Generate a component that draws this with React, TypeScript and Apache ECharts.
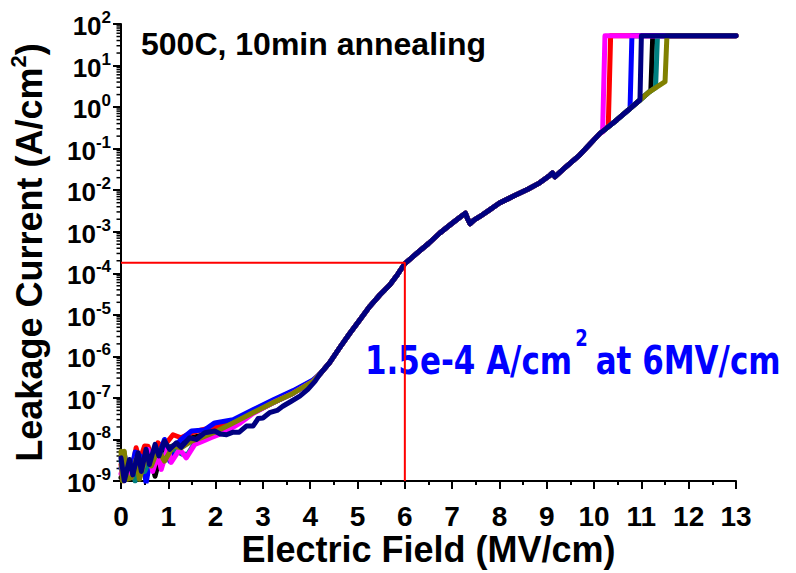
import React, { useEffect, useRef } from "react";
import * as echarts from "echarts";

// ---- data (Electric field MV/cm, leakage current A/cm2) ----
const fieldTicks = [0, 13];
const complianceCurrent = 52;

const commonCurve: [number, number][] = [
  [4.2, 3.7e-7], [4.41, 7.1e-7], [4.62, 1.6e-6], [4.83, 3.5e-6], [5.05, 7.6e-6],
  [5.26, 1.6e-5], [5.47, 3.0e-5], [5.68, 5.2e-5], [5.85, 9.5e-5], [6.0, 1.7e-4],
  [6.25, 3.0e-4], [6.5, 5.2e-4], [6.74, 9.3e-4], [7.0, 1.6e-3], [7.2, 2.4e-3],
  [7.28, 2.8e-3], [7.33, 2.0e-3], [7.38, 1.55e-3], [7.46, 1.9e-3], [7.58, 2.3e-3],
  [7.8, 3.4e-3], [8.0, 4.9e-3], [8.3, 7.2e-3], [8.6, 1.05e-2], [8.85, 1.5e-2],
  [9.07, 2.3e-2], [9.12, 2.6e-2], [9.17, 2.1e-2], [9.35, 3.2e-2], [9.7, 7.1e-2],
  [10.12, 0.23], [10.48, 0.49], [10.97, 1.48], [11.16, 2.3], [11.5, 4.1],
];

const lowBlack: [number, number][] = [
  [0, 1.2e-9], [0.1, 2.5e-9], [0.2, 1.5e-9], [0.35, 3.5e-9], [0.5, 2.0e-9], [0.62, 4.0e-9],
  [0.72, 1.3e-9], [0.8, 3.0e-9], [0.95, 6.0e-9], [1.1, 7.0e-9], [1.3, 8.5e-9], [1.5, 1.1e-8],
  [1.75, 1.3e-8], [2.0, 1.6e-8], [2.37, 2.6e-8], [2.79, 4.4e-8], [3.21, 7.6e-8], [3.64, 1.3e-7],
  [4.06, 2.5e-7],
];
const lowRed: [number, number][] = [
  [0, 2.5e-9], [0.05, 1.0e-9], [0.15, 3.0e-9], [0.22, 1.5e-9], [0.32, 6.3e-9], [0.39, 3.0e-9],
  [0.5, 7.0e-9], [0.57, 6.9e-9], [0.64, 4.0e-9], [0.78, 8.3e-9], [0.88, 6.3e-9], [1.1, 1.3e-8],
  [1.27, 1.1e-8], [1.49, 1.45e-8], [1.7, 1.7e-8], [1.98, 2.0e-8], [2.37, 2.8e-8], [2.79, 5.0e-8],
  [3.21, 8.5e-8], [3.64, 1.45e-7], [4.06, 2.6e-7],
];
const lowBlue: [number, number][] = [
  [0, 2.0e-9], [0.08, 4.0e-9], [0.18, 1.2e-9], [0.3, 5.0e-9], [0.46, 3.6e-9], [0.53, 0.9e-9],
  [0.64, 4.4e-9], [0.75, 3.0e-9], [0.92, 1.0e-8], [1.03, 3.0e-9], [1.15, 7.0e-9], [1.27, 1.0e-8],
  [1.49, 1.6e-8], [1.77, 1.7e-8], [1.98, 2.5e-8], [2.37, 3.0e-8], [2.79, 5.2e-8], [3.21, 8.9e-8],
  [3.64, 1.5e-7], [4.06, 2.7e-7],
];
const lowTeal: [number, number][] = [
  [0, 3.0e-9], [0.08, 1.3e-9], [0.2, 2.5e-9], [0.3, 1.0e-9], [0.42, 2.8e-9], [0.5, 1.7e-9],
  [0.62, 3.5e-9], [0.75, 5.0e-9], [0.9, 4.0e-9], [1.05, 6.5e-9], [1.2, 5.0e-9], [1.3, 4.4e-9],
  [1.41, 4.4e-9], [1.55, 8.0e-9], [1.75, 1.1e-8], [2.0, 1.5e-8], [2.37, 2.5e-8], [2.79, 4.4e-8],
  [3.21, 7.6e-8], [3.64, 1.3e-7], [4.06, 2.5e-7],
];
const lowMagenta: [number, number][] = [
  [0, 1.5e-9], [0.1, 3.0e-9], [0.2, 1.2e-9], [0.35, 4.0e-9], [0.45, 2.0e-9], [0.57, 5.8e-9],
  [0.67, 1.7e-9], [0.78, 4.4e-9], [0.85, 1.9e-9], [0.99, 6.3e-9], [1.06, 2.8e-9], [1.24, 5.8e-9],
  [1.38, 3.6e-9], [1.56, 7.6e-9], [1.73, 9.1e-9], [1.9, 1.1e-8], [2.2, 1.5e-8], [2.5, 2.4e-8],
  [2.79, 4.2e-8], [3.21, 7.6e-8], [3.64, 1.3e-7], [4.06, 2.5e-7],
];
const lowOlive: [number, number][] = [
  [0, 5.2e-9], [0.03, 1.0e-9], [0.07, 5.2e-9], [0.12, 1.1e-9], [0.22, 1.2e-9], [0.32, 3.3e-9],
  [0.39, 1.1e-9], [0.53, 4.0e-9], [0.64, 2.3e-9], [0.78, 5.8e-9], [0.92, 3.0e-9], [1.1, 6.9e-9],
  [1.27, 6.3e-9], [1.49, 9.1e-9], [1.7, 1.1e-8], [1.98, 1.5e-8], [2.37, 2.5e-8], [2.79, 4.4e-8],
  [3.21, 7.6e-8], [3.64, 1.3e-7], [4.06, 2.5e-7],
];
const lowNavy: [number, number][] = [
  [0, 3.6e-9], [0.07, 1.0e-9], [0.18, 3.3e-9], [0.25, 1.4e-9], [0.36, 4.8e-9], [0.43, 1.7e-9],
  [0.53, 5.8e-9], [0.6, 2.5e-9], [0.72, 7.6e-9], [0.8, 4.0e-9], [0.92, 9.1e-9], [1.03, 5.8e-9],
  [1.17, 8.3e-9], [1.27, 6.5e-9], [1.45, 1.1e-8], [1.59, 1.0e-8], [1.77, 1.45e-8], [1.98, 1.6e-8],
  [2.1, 1.35e-8], [2.23, 1.3e-8], [2.37, 1.5e-8], [2.5, 1.5e-8], [2.65, 2.1e-8], [2.79, 2.1e-8],
  [2.9, 3.2e-8], [3.0, 3.3e-8], [3.14, 4.4e-8], [3.3, 5.0e-8], [3.42, 6.3e-8], [3.6, 8.3e-8],
  [3.78, 1.1e-7], [3.95, 1.6e-7], [4.1, 2.5e-7],
];

// breakdown: last point on curve, jump to compliance, flat to end
const endBlack: [number, number][] = [[11.2, 2.5], [11.24, complianceCurrent], [13, complianceCurrent]];
const endRed: [number, number][] = [[10.3, 0.34], [10.35, complianceCurrent], [13, complianceCurrent]];
const endBlue: [number, number][] = [[10.76, 0.91], [10.8, complianceCurrent], [13, complianceCurrent]];
const endTeal: [number, number][] = [[11.3, 2.95], [11.34, complianceCurrent], [13, complianceCurrent]];
const endMagenta: [number, number][] = [[10.18, 0.25], [10.23, complianceCurrent], [13, complianceCurrent]];
const endOlive: [number, number][] = [[11.5, 4.1], [11.54, complianceCurrent], [13, complianceCurrent]];
const endNavy: [number, number][] = [[10.97, 1.48], [11.0, complianceCurrent], [13, complianceCurrent]];

const guideLine: [number, number][] = [[0, 1.8e-4], [6, 1.8e-4], [6, 1e-9]];

const decadeMin = -9;
const decadeMax = 2;
const minorMultipliers = [2, 3, 4, 5, 6, 7, 8, 9];

const annotationMain = "1.5e-4 A/cm";
const annotationSup = "2";
const annotationTail = "at 6MV/cm";

const curveDefs = [
  { name: "black", color: "#000000", low: lowBlack, end: endBlack },
  { name: "red", color: "#ff0000", low: lowRed, end: endRed },
  { name: "blue", color: "#0000ff", low: lowBlue, end: endBlue },
  { name: "teal", color: "#008080", low: lowTeal, end: endTeal },
  { name: "magenta", color: "#ff00ff", low: lowMagenta, end: endMagenta },
  { name: "olive", color: "#808000", low: lowOlive, end: endOlive },
  { name: "navy", color: "#000080", low: lowNavy, end: endNavy },
];

const FONT = "'Liberation Sans', Arial, sans-serif";
const DEJAVU = "'DejaVu Sans', sans-serif";

function measure(text: string, font: string): number {
  const ctx = document.createElement("canvas").getContext("2d");
  if (!ctx) return text.length * 18;
  ctx.font = font;
  return ctx.measureText(text).width;
}

export default function App() {
  const ref = useRef<HTMLDivElement>(null);
  useEffect(() => {
    document.body.style.margin = "0";
    document.body.style.overflow = "hidden";
    const chart = echarts.init(ref.current!, undefined, { renderer: "svg" });

    const minorData: [number, number][] = [];
    for (let e = decadeMin; e < decadeMax; e++) {
      for (const k of minorMultipliers) minorData.push([0, k * Math.pow(10, e)]);
    }

    const curveSeries = curveDefs.map((c) => ({
      type: "line",
      name: c.name,
      data: [...c.low, ...commonCurve.filter((p) => p[0] < c.end[0][0]), ...c.end],
      symbol: "none",
      showSymbol: false,
      lineStyle: { width: 5, color: c.color, join: "round", cap: "round" },
      itemStyle: { color: c.color },
      z: 3,
      silent: true,
    }));

    const annX = 365;
    const mainW = measure(annotationMain, `bold 31px ${DEJAVU}`);
    const supW = measure(annotationSup, `bold 18px ${DEJAVU}`);
    const supX = annX + mainW + 3;
    const tailX = supX + supW + 8;
    const annTextStyle = { fontSize: 31, fontWeight: "bold", fontFamily: DEJAVU, fill: "#0000ff", verticalAlign: "middle", align: "left" };

    const option: any = {
      animation: false,
      textStyle: { fontFamily: FONT },
      title: {
        text: "500C, 10min annealing",
        left: 136,
        top: 23,
        textStyle: { fontSize: 32, fontWeight: "bold", color: "#000", fontFamily: FONT },
      },
      grid: { left: 121, right: 60, top: 24, bottom: 92, containLabel: false, outerBoundsMode: "none" },
      xAxis: {
        type: "value",
        min: fieldTicks[0],
        max: fieldTicks[1],
        interval: 1,
        name: "Electric Field (MV/cm)",
        nameLocation: "middle",
        nameGap: 50,
        nameMoveOverlap: false,
        nameTextStyle: { fontSize: 36, fontWeight: "bold", color: "#000", fontFamily: FONT, lineHeight: 36 },
        axisLine: { lineStyle: { color: "#000", width: 2 } },
        axisTick: { inside: false, length: 8, lineStyle: { color: "#000", width: 2 } },
        minorTick: { show: true, splitNumber: 2, length: 4, lineStyle: { color: "#000", width: 2 } },
        splitLine: { show: false },
        axisLabel: { fontSize: 28, fontWeight: "bold", color: "#000", margin: 21, lineHeight: 28, fontFamily: FONT },
      },
      yAxis: {
        type: "log",
        logBase: 10,
        min: Math.pow(10, decadeMin),
        max: Math.pow(10, decadeMax),
        interval: 1,
        name: "{n|Leakage Current (A/cm}{s|2}{n|)}",
        nameLocation: "middle",
        nameGap: 74,
        nameMoveOverlap: false,
        nameTextStyle: {
          color: "#000",
          rich: {
            n: { fontSize: 36, fontWeight: "bold", fontFamily: FONT, verticalAlign: "bottom" },
            s: { fontSize: 22, fontWeight: "bold", fontFamily: FONT, lineHeight: 40, verticalAlign: "top" },
          },
        },
        axisLine: { show: true, lineStyle: { color: "#000", width: 2 } },
        axisTick: { inside: false, length: 8, lineStyle: { color: "#000", width: 2 } },
        splitLine: { show: false },
        axisLabel: {
          margin: 10,
          color: "#000",
          formatter: (v: number) => `{b|10}{s|${Math.round(Math.log10(v))}}`,
          rich: {
            b: { fontSize: 26, fontWeight: "bold", fontFamily: FONT, verticalAlign: "bottom" },
            s: { fontSize: 17, fontWeight: "bold", fontFamily: FONT, lineHeight: 30, verticalAlign: "top" },
          },
        },
      },
      graphic: [
        {
          type: "text",
          x: annX,
          y: 360,
          scaleY: 1.28,
          z: 1,
          style: { ...annTextStyle, text: annotationMain },
        },
        {
          type: "text",
          x: supX,
          y: 338,
          scaleY: 1.28,
          z: 1,
          style: { ...annTextStyle, fontSize: 18, text: annotationSup },
        },
        {
          type: "text",
          x: tailX,
          y: 360,
          scaleY: 1.28,
          z: 1,
          style: { ...annTextStyle, text: annotationTail },
        },
      ],
      series: [
        {
          type: "custom",
          name: "minorTicks",
          clip: false,
          silent: true,
          data: minorData,
          renderItem: (_p: any, api: any) => {
            const pt = api.coord([0, api.value(1)]);
            return {
              type: "line",
              shape: { x1: pt[0] - 4.5, y1: pt[1], x2: pt[0], y2: pt[1] },
              style: { stroke: "#000", lineWidth: 1.5 },
            };
          },
        },
        ...curveSeries,
        {
          type: "line",
          name: "guide",
          data: guideLine,
          symbol: "none",
          showSymbol: false,
          lineStyle: { width: 2, color: "#ff0000" },
          itemStyle: { color: "#ff0000" },
          z: 10,
          silent: true,
        },
      ],
    };
    chart.setOption(option);
    return () => chart.dispose();
  }, []);
  return <div ref={ref} style={{ width: 796, height: 573 }} />;
}
